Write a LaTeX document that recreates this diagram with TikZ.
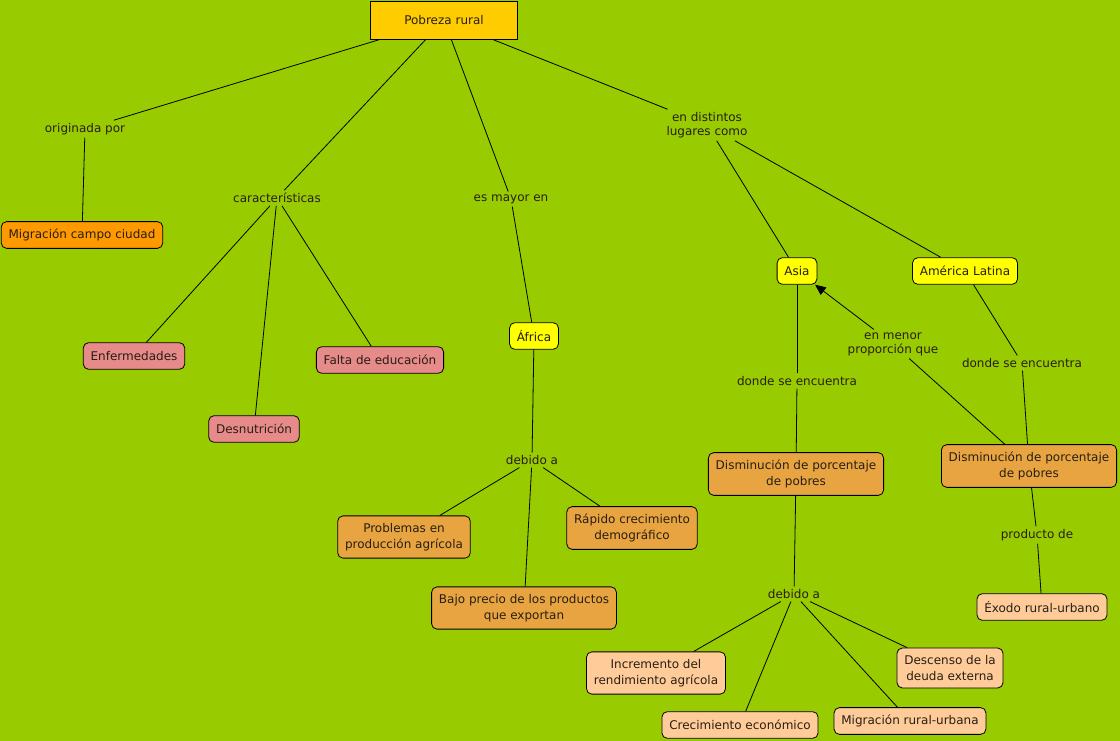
\documentclass[tikz,border=0pt]{standalone}
\usepackage{fontspec}
\setmainfont{DejaVu Sans}
\usetikzlibrary{arrows.meta}
\definecolor{mapbg}{RGB}{153,204,0}
\definecolor{maproot}{RGB}{255,204,0}
\definecolor{maporange}{RGB}{255,153,0}
\definecolor{mappink}{RGB}{230,138,138}
\definecolor{mapyellow}{RGB}{255,255,0}
\definecolor{maptan}{RGB}{232,164,64}
\definecolor{mappeach}{RGB}{255,204,153}
\definecolor{maptext}{RGB}{40,30,20}
\tikzset{
  concept/.style={draw=black, rounded corners=4pt, align=center, line width=0.6pt,
    inner xsep=5.5pt, inner ysep=5.5pt, minimum height=20pt, text=maptext,
    font=\fontsize{9}{12}\selectfont},
  kroot/.style={concept, fill=maproot, sharp corners, minimum width=110pt, minimum height=28.5pt},
  korange/.style={concept, fill=maporange},
  kpink/.style={concept, fill=mappink},
  kyellow/.style={concept, fill=mapyellow},
  ktan/.style={concept, fill=maptan},
  kpeach/.style={concept, fill=mappeach},
  link/.style={align=center, inner sep=2pt, text=maptext, font=\fontsize{9}{10.5}\selectfont},
  conn/.style={line width=0.6pt, black},
  connarr/.style={-{Triangle[length=8pt,width=7pt]}, line width=0.6pt, black}
}
\begin{document}
\begin{tikzpicture}[x=0.75pt,y=-0.75pt]
  \fill[mapbg] (0,0) rectangle (1120,741);
  \useasboundingbox (0,0) rectangle (1120,741);

  % concepts
  \node[kroot] (pobreza) at (444,20) {Pobreza rural};
  \node[korange] (migcampo) at (82,235) {Migración campo ciudad};
  \node[kpink] (enferm) at (134,356) {Enfermedades};
  \node[kpink] (desnut) at (254,429) {Desnutrición};
  \node[kpink] (falta) at (380,360) {Falta de educación};
  \node[kyellow] (africa) at (534,336) {África};
  \node[ktan] (problemas) at (404,537) {Problemas en\\producción agrícola};
  \node[ktan] (rapido) at (632,528) {Rápido crecimiento\\demográfico};
  \node[ktan] (bajo) at (524,608) {Bajo precio de los productos\\que exportan};
  \node[kyellow] (asia) at (797,271) {Asia};
  \node[kyellow] (america) at (965,271) {América Latina};
  \node[ktan] (dismA) at (796,474) {Disminución de porcentaje\\de pobres};
  \node[ktan] (dismB) at (1029,466) {Disminución de porcentaje\\de pobres};
  \node[kpeach] (exodo) at (1042,607) {Éxodo rural-urbano};
  \node[kpeach] (incremento) at (656,673) {Incremento del\\rendimiento agrícola};
  \node[kpeach] (crecimiento) at (740,725) {Crecimiento económico};
  \node[kpeach] (migrural) at (910,721) {Migración rural-urbana};
  \node[kpeach] (descenso) at (950,668) {Descenso de la\\deuda externa};

  % linking phrases
  \node[link] (originada) at (85,129) {originada por};
  \node[link] (caract) at (277,198) {características};
  \node[link] (mayoren) at (511,199) {es mayor en};
  \node[link] (debidoA) at (532,460) {debido a};
  \node[link] (lugares) at (707,125) {en distintos\\lugares como};
  \node[link] (dondeAsia) at (797,381) {donde se encuentra};
  \node[link] (menor) at (893,344) {en menor\\proporción que};
  \node[link] (dondeAL) at (1022,363) {donde se encuentra};
  \node[link] (producto) at (1037,535) {producto de};
  \node[link] (debidoB) at (794,594) {debido a};

  % connectors
  \draw[conn] (pobreza) -- (originada);
  \draw[conn] (originada) -- (migcampo);
  \draw[conn] (pobreza) -- (caract);
  \draw[conn] (caract) -- (enferm);
  \draw[conn] (caract) -- (desnut);
  \draw[conn] (caract) -- (falta);
  \draw[conn] (pobreza) -- (mayoren);
  \draw[conn] (mayoren) -- (africa);
  \draw[conn] (africa) -- (debidoA);
  \draw[conn] (debidoA) -- (problemas);
  \draw[conn] (debidoA) -- (rapido);
  \draw[conn] (debidoA) -- (bajo);
  \draw[conn] (pobreza) -- (lugares);
  \draw[conn] (lugares) -- (asia);
  \draw[conn] (lugares) -- (america);
  \draw[conn] (asia) -- (dondeAsia);
  \draw[conn] (dondeAsia) -- (dismA);
  \draw[conn] (america) -- (dondeAL);
  \draw[conn] (dondeAL) -- (dismB);
  \draw[conn] (dismB) -- (menor);
  \draw[connarr] (menor) -- (asia);
  \draw[conn] (dismB) -- (producto);
  \draw[conn] (producto) -- (exodo);
  \draw[conn] (dismA) -- (debidoB);
  \draw[conn] (debidoB) -- (incremento);
  \draw[conn] (debidoB) -- (crecimiento);
  \draw[conn] (debidoB) -- (migrural);
  \draw[conn] (debidoB) -- (descenso);
\end{tikzpicture}
\end{document}
